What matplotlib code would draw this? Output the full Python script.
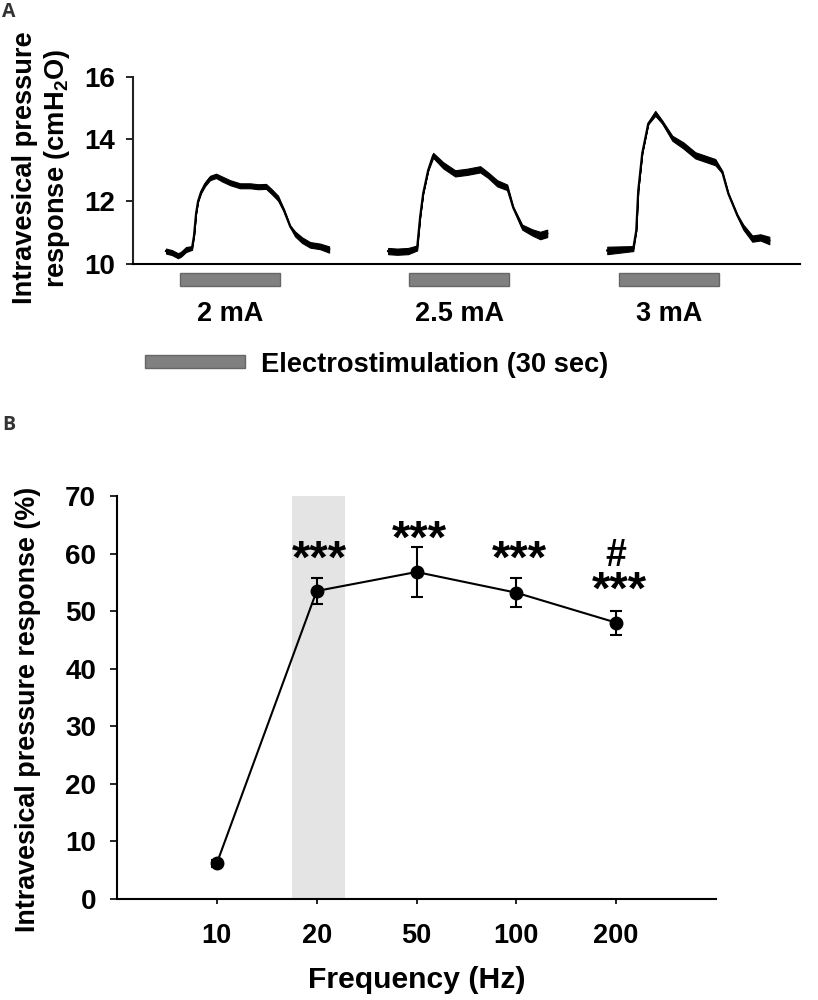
import matplotlib
matplotlib.use("Agg")
import matplotlib.pyplot as plt

plt.rcParams["font.family"] = ["Liberation Sans", "DejaVu Sans"]
plt.rcParams["font.weight"] = "bold"
plt.rcParams["axes.labelweight"] = "bold"
plt.rcParams["mathtext.default"] = "regular"

W, H = 818, 1000

# panel A traces, seconds / cmH2O
t1 = [9.9, 11.7, 13.5, 14.4, 15.9, 17.7, 18.3, 18.9, 19.5, 20.4, 21.6, 23.1, 24.9, 26.7,
      29.1, 32.1, 35.1, 37.5, 39.9, 41.7, 43.5, 45.3, 47.1, 48.6, 50.7, 53.1, 56.1, 58.8]
p1 = [10.4, 10.35, 10.25, 10.3, 10.45, 10.5, 10.9, 11.6, 12.0, 12.3, 12.55, 12.75, 12.82, 12.72,
      12.6, 12.5, 12.5, 12.47, 12.48, 12.3, 12.1, 11.7, 11.2, 10.95, 10.75, 10.6, 10.55, 10.45]
n1 = [.08, .08, .08, .08, .08, .06, 0, 0, .02, .04, .06, .07, .07, .08,
      .08, .08, .08, .08, .08, .08, .08, .04, .03, .08, .09, .09, .09, .1]
t2 = [76.5, 79.2, 82.5, 85.2, 86.1, 87, 88.5, 90, 93, 96.6, 100.2, 104.1, 106.5, 109.2,
      112.2, 114, 116.7, 119.7, 122.1, 124.2]
p2 = [10.4, 10.38, 10.4, 10.5, 11.5, 12.25, 13.0, 13.48, 13.16, 12.9, 12.95, 13.03, 12.84, 12.58,
      12.45, 11.8, 11.17, 11.0, 10.9, 10.97]
n2 = [.1, .1, .1, .08, 0, 0, .02, .08, .1, .1, .1, .1, .09, .1, .09, .03, .08, .1, .12, .12]
t3 = [142.2, 146.1, 150, 150.9, 151.5, 152.7, 154.5, 156.6, 158.7, 161.7, 165, 168.6, 174.6,
      176.7, 178.5, 181.2, 183, 185.7, 188.1, 190.8]
p3 = [10.42, 10.45, 10.48, 11.06, 12.35, 13.55, 14.5, 14.83, 14.55, 14.03, 13.8, 13.48, 13.26,
      12.94, 12.25, 11.55, 11.17, 10.8, 10.84, 10.74]
n3 = [.12, .1, .08, 0, 0, 0, .02, .08, .05, .08, .1, .1, .1, .04, .02, .03, .08, .1, .1, .12]
stim_start = [14.1, 82.8, 145.8]
stim_len = 30
currents = ["2 mA", "2.5 mA", "3 mA"]

# panel B
freqs = ["10", "20", "50", "100", "200"]
resp = [6.2, 53.5, 56.8, 53.2, 48.0]
resp_err = [0.6, 2.2, 4.4, 2.5, 2.1]


def axes_at(left, top, right, bottom):
    return fig.add_axes([left / W, 1 - bottom / H, (right - left) / W, (bottom - top) / H])


fig = plt.figure(figsize=(W / 100, H / 100), dpi=100)

# A
ax = axes_at(133, 77, 800, 263.5)
for t, p, n in [(t1, p1, n1), (t2, p2, n2), (t3, p3, n3)]:
    ax.plot(t, p, color="black", lw=1.6)
    ax.fill_between(t, [a - b for a, b in zip(p, n)], [a + b for a, b in zip(p, n)], color="black", lw=0.8)
ax.set_xlim(0, 200)
ax.set_ylim(10, 16)
ax.set_yticks([10, 12, 14, 16])
ax.set_xticks([])
ax.tick_params(axis="y", labelsize=20, length=5, width=1.2, pad=8)
ax.spines[["top", "right"]].set_visible(False)
ax.spines[["left", "bottom"]].set_linewidth(1.5)
ax.spines["left"].set_color("#222222")

for s, c in zip(stim_start, currents):
    ax.bar(s, -0.42, width=stim_len, bottom=9.71, align="edge", color="#808080",
           edgecolor="#666666", lw=1, clip_on=False)
    ax.text(s + stim_len / 2, 8.37, c, ha="center", va="center", fontsize=19.5)
ax.bar(3.6, -0.41, width=stim_len, bottom=7.06, align="edge", color="#808080",
       edgecolor="#666666", lw=1, clip_on=False)
fig.text(261 / W, 1 - 365.5 / H, "Electrostimulation (30 sec)", ha="left", va="center", fontsize=19.6)

fig.text(25 / W, 1 - 168 / H, "Intravesical pressure", rotation=90, ha="center", va="center", fontsize=19.6)
fig.text(57 / W, 1 - 168.5 / H, "response (cmH$_2$O)", rotation=90, ha="center", va="center", fontsize=19.6)
fig.text(2 / W, 1 - 12 / H, "A", ha="left", va="center", fontsize=14, color="#333333", family=["Open Sans", "DejaVu Sans"])
fig.text(2 / W, 1 - 425 / H, "B", ha="left", va="center", fontsize=14, color="#333333", family=["Open Sans", "DejaVu Sans"])

# B
bx = axes_at(117, 496, 716, 899)
pos = list(range(len(freqs)))
bx.axvspan(0.75, 1.28, color="#e4e4e4", lw=0, zorder=0)
bx.errorbar(pos, resp, yerr=resp_err, color="black", lw=1.5, elinewidth=1.5, capsize=4.3, capthick=1.5,
            marker="o", ms=9, clip_on=False)
bx.set_xlim(-1, 5)
bx.set_ylim(0, 70)
bx.set_xticks(pos)
bx.set_xticklabels(freqs)
bx.set_yticks(range(0, 71, 10))
bx.tick_params(axis="y", labelsize=20, length=5, width=1.2, pad=10)
bx.tick_params(axis="x", labelsize=19.5, length=3.6, width=1.2, pad=13.5)
bx.spines[["top", "right"]].set_visible(False)
bx.spines[["left", "bottom"]].set_linewidth(1.5)
bx.set_xlabel("Frequency (Hz)", fontsize=21.7, labelpad=12.5)
bx.set_ylabel("Intravesical pressure response (%)", fontsize=19.4)
bx.yaxis.set_label_coords(-0.127, 0.47)

for x, y, s in [(1, 58.7, "***"), (2, 62.2, "***"), (3, 58.7, "***"), (4, 53.3, "***")]:
    bx.text(x + 0.03, y, s, ha="center", va="center", fontsize=34)
bx.text(4, 59.6, "#", ha="center", va="center", fontsize=27)

fig.savefig("out.png", dpi=100)
